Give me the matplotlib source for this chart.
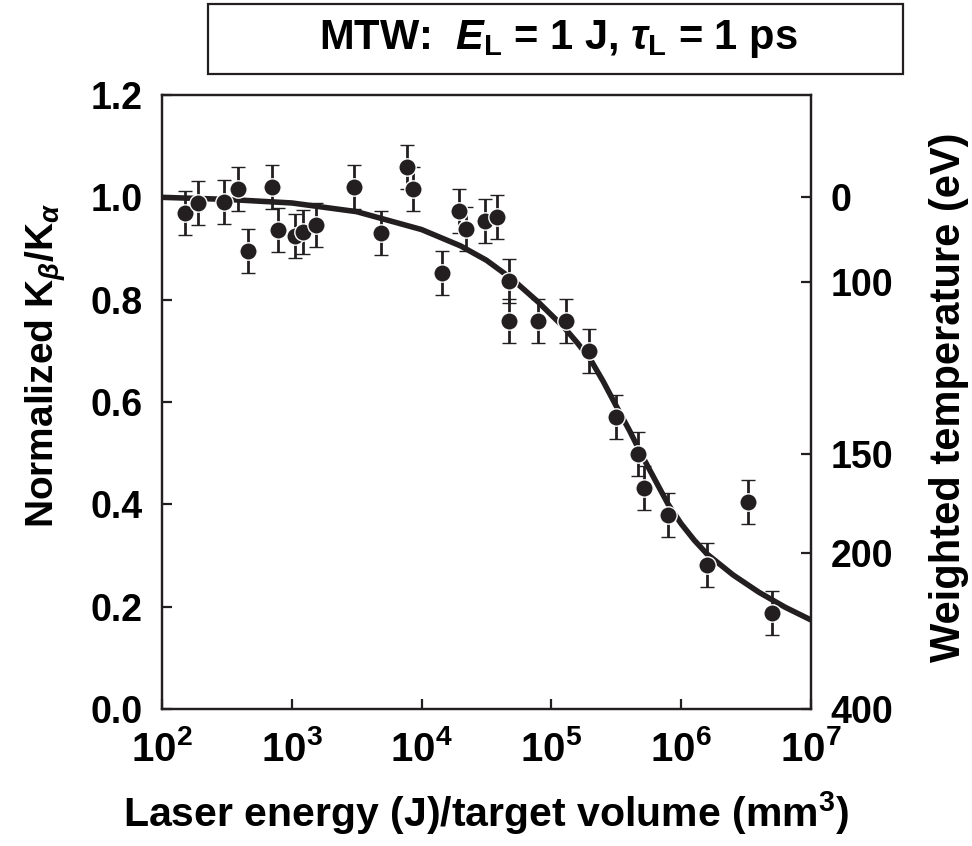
import matplotlib
matplotlib.use("Agg")
import matplotlib.pyplot as plt
from matplotlib.patches import Rectangle
import numpy as np

plt.rcParams['font.family'] = ['Liberation Sans', 'DejaVu Sans']
plt.rcParams['font.weight'] = 'bold'
plt.rcParams['mathtext.fontset'] = 'custom'
plt.rcParams['mathtext.rm'] = 'Liberation Sans:bold'
plt.rcParams['mathtext.bf'] = 'Liberation Sans:bold'
plt.rcParams['mathtext.it'] = 'Liberation Sans:italic:bold'
plt.rcParams['mathtext.sf'] = 'Liberation Sans:bold'

INK = '#231f20'

# measured points: laser energy / target volume (J/mm^3) and normalized Kb/Ka
energy = [150, 189, 300, 384, 459, 702, 780, 1055, 1216, 1531, 3000, 4840,
          7670, 8520, 14260, 19280, 21800, 31000, 38400, 47500, 47500, 79400,
          130000, 196000, 316000, 467000, 519000, 794000, 1.58e6, 3.27e6, 5.0e6]
ratio = [0.969, 0.988, 0.990, 1.016, 0.896, 1.021, 0.937, 0.924, 0.932, 0.945,
         1.020, 0.930, 1.059, 1.016, 0.853, 0.973, 0.939, 0.953, 0.961, 0.836,
         0.759, 0.759, 0.759, 0.699, 0.571, 0.499, 0.432, 0.380, 0.282, 0.405,
         0.188]
ratio_err = [0.043] * len(ratio)

# fitted curve
fit_energy = [1e2, 3.16e2, 1e3, 3.16e3, 1e4, 2e4, 3.16e4, 5e4, 7.94e4, 1.26e5,
              1.58e5, 2e5, 2.51e5, 3.16e5, 3.98e5, 5e5, 6.31e5, 7.94e5, 1e6,
              1.26e6, 1.58e6, 2.51e6, 3.98e6, 6.31e6, 1e7]
fit_ratio = [1.000, 0.996, 0.989, 0.972, 0.937, 0.905, 0.877, 0.840, 0.795,
             0.745, 0.716, 0.683, 0.640, 0.592, 0.545, 0.495, 0.447, 0.400,
             0.362, 0.330, 0.303, 0.262, 0.228, 0.199, 0.174]

# right axis: weighted temperature tick labels and their ratio positions
temp_labels = ['0', '100', '150', '200', '400']
temp_pos = [1.0, 0.834, 0.499, 0.305, 0.0]

left_ticks = [0.0, 0.2, 0.4, 0.6, 0.8, 1.0, 1.2]
x_ticks = [1e2, 1e3, 1e4, 1e5, 1e6, 1e7]
x_ticklabels = [r'$10^{2}$', r'$10^{3}$', r'$10^{4}$', r'$10^{5}$', r'$10^{6}$', r'$10^{7}$']

fig = plt.figure(figsize=(9.72, 8.46), dpi=100)
ax = fig.add_axes([162/972, 1 - 709/846, (811-162)/972, (709-95)/846])

ax.plot(fit_energy, fit_ratio, color=INK, lw=4.0, solid_capstyle='butt',
        solid_joinstyle='round', zorder=2)
ax.errorbar(energy, ratio, yerr=ratio_err, fmt='o', color=INK, ecolor=INK,
            elinewidth=2.0, capsize=5, capthick=2.0, markersize=12.5,
            markeredgecolor='white', markeredgewidth=1.0, zorder=3)

ax.set_xscale('log')
ax.set_xlim(1e2, 1e7)
ax.set_ylim(0, 1.2)
ax.set_xticks(x_ticks)
ax.set_xticklabels(x_ticklabels)
ax.xaxis.set_minor_locator(matplotlib.ticker.NullLocator())
ax.set_yticks(left_ticks)
ax.set_yticklabels([f'{v:.1f}' for v in left_ticks])

for s in ax.spines.values():
    s.set_linewidth(1.6)
    s.set_color(INK)

ax.tick_params(axis='y', direction='in', length=7, width=1.6, color=INK,
               labelsize=27, pad=14)
ax.tick_params(axis='x', direction='in', length=7, width=1.6, color=INK,
               labelsize=29, pad=15)

ax2 = ax.twinx()
ax2.set_ylim(0, 1.2)
ax2.set_yticks(temp_pos)
ax2.set_yticklabels(temp_labels)
ax2.tick_params(axis='y', direction='in', length=7, width=1.6, color=INK,
                labelsize=27, pad=14)
for s in ax2.spines.values():
    s.set_linewidth(1.6)
    s.set_color(INK)

ax.set_ylabel(r'Normalized K$_{\beta}$/K$_{\alpha}$', fontsize=28,
              fontweight='bold')
ax2.set_ylabel('Weighted temperature (eV)', fontsize=30, fontweight='bold')
for lab in (ax.yaxis.label, ax2.yaxis.label):
    lab.set_ha('center')
    lab.set_va('center')
ax.yaxis.set_label_coords(-0.180, 0.56)
ax2.yaxis.set_label_coords(1.212, 0.507)
ax.set_xlabel(r'Laser energy (J)/target volume (mm$^{3}$)', fontsize=29.5,
              fontweight='bold', labelpad=15)

# title box
fig.patches.append(Rectangle((208/972, 1 - 74/846), (903-208)/972, 70/846,
                             transform=fig.transFigure, fill=False,
                             edgecolor=INK, linewidth=1.6))
fig.text(558/972, 1 - 39/846,
         r'MTW:  $E_{\mathrm{L}}$ = 1 J, $\tau_{\mathrm{L}}$ = 1 ps',
         ha='center', va='center', fontsize=30, fontweight='bold')

fig.savefig('out.png', dpi=100)
